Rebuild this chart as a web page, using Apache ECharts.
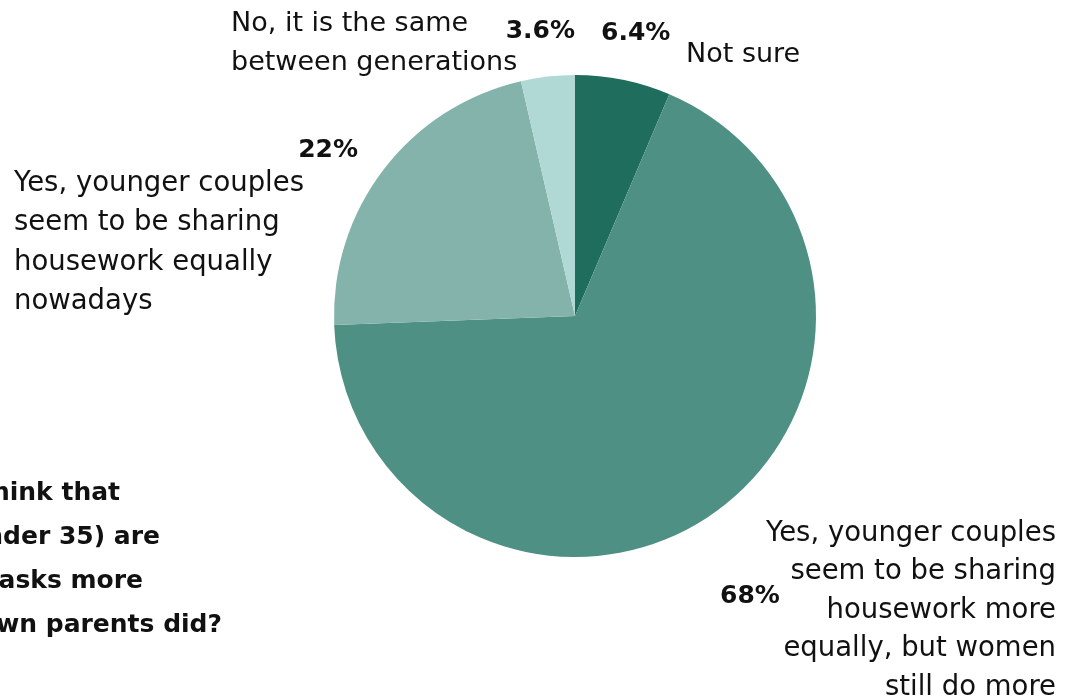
<!DOCTYPE html>
<html>
<head>
<meta charset="utf-8">
<style>
  html, body { margin: 0; padding: 0; background: #ffffff; }
  #chart { width: 1072px; height: 697px; }
</style>
<script src="https://cdn.jsdelivr.net/npm/echarts@6/dist/echarts.min.js"></script>
</head>
<body>
<div id="chart"></div>
<script>
// Survey answers, in clockwise order from 12 o'clock
const answers = [
  'Not sure',
  'Yes, younger couples\nseem to be sharing\nhousework more\nequally, but women\nstill do more',
  'Yes, younger couples\nseem to be sharing\nhousework equally\nnowadays',
  'No, it is the same\nbetween generations'
];
const shares = [6.4, 68, 22, 3.6];
const shareLabels = ['6.4%', '68%', '22%', '3.6%'];
const sliceColors = ['#1f6e5d', '#4f9084', '#84b3ac', '#b0d8d4'];

const questionLines = [
  'Do you think that',
  'younger couples (under 35) are',
  'sharing household tasks more',
  'equally than their own parents did?'
];

const FONT = '"DejaVu Sans", sans-serif';
const chart = echarts.init(document.getElementById('chart'), null, { renderer: 'canvas' });

function txt(text, x, y, opt) {
  return {
    type: 'text', x: x, y: y, silent: true,
    style: Object.assign({
      text: text, fill: '#111111', font: '400 27.5px ' + FONT,
      textAlign: 'left', textVerticalAlign: 'middle', lineHeight: 39
    }, opt || {})
  };
}

const BOLD = { font: '700 25px ' + FONT };
const SMALLER = { font: '400 27px ' + FONT };

const graphics = [
  // answer names
  txt(answers[3], 231, 43, SMALLER),
  txt(answers[0], 686, 55, SMALLER),
  txt(answers[2], 14, 243, { lineHeight: 39.5 }),
  txt(answers[1], 1056, 610.5, { textAlign: 'right', lineHeight: 38.5 }),
  // percentages
  txt(shareLabels[3], 575, 31, Object.assign({ textAlign: 'right' }, BOLD)),
  txt(shareLabels[0], 601, 33, BOLD),
  txt(shareLabels[2], 358, 150, Object.assign({ textAlign: 'right' }, BOLD)),
  txt(shareLabels[1], 720, 596, BOLD)
];
// question text, running off the left edge
const questionEnds = [120, 160, 143, 222];
questionLines.forEach(function (line, i) {
  graphics.push(txt(line, questionEnds[i], 493 + i * 44, {
    textAlign: 'right', font: '700 25px ' + FONT
  }));
});

chart.setOption({
  animation: false,
  backgroundColor: '#ffffff',
  color: sliceColors,
  series: [{
    type: 'pie',
    center: [575, 316],
    radius: [0, 241],
    startAngle: 90,
    clockwise: true,
    label: { show: false },
    labelLine: { show: false },
    emphasis: { disabled: true },
    itemStyle: { borderWidth: 0 },
    data: shares.map(function (v, i) { return { name: answers[i], value: v }; })
  }],
  graphic: graphics
});
</script>
</body>
</html>
